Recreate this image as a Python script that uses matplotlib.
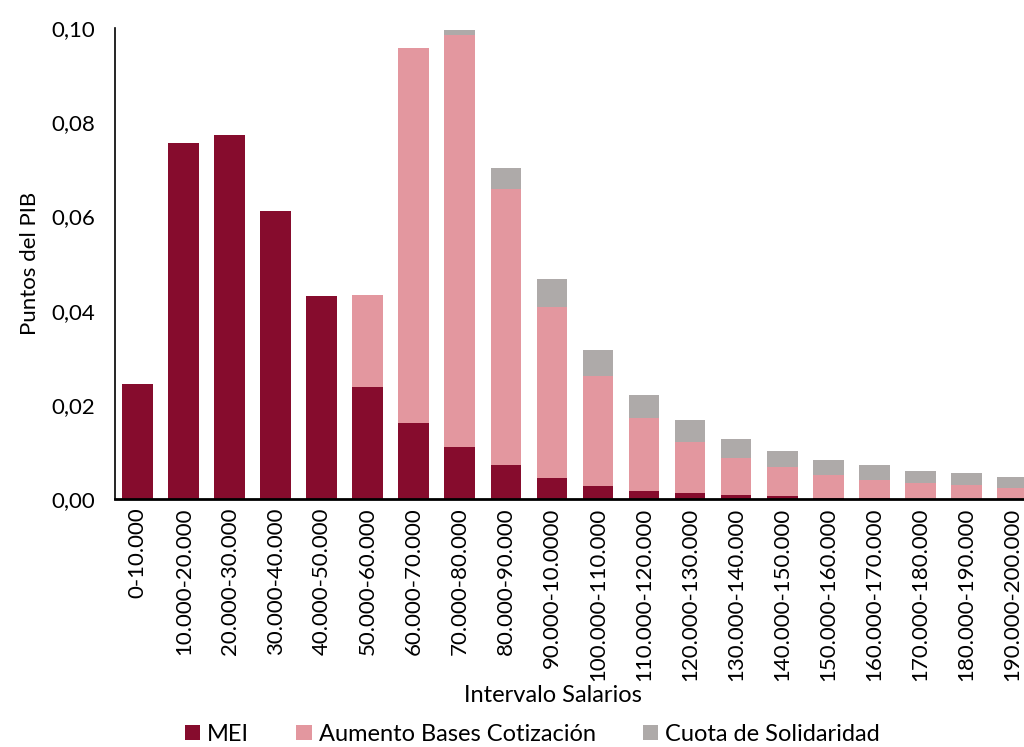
import matplotlib.pyplot as plt
import numpy as np

plt.rcParams['font.family'] = ['Lato', 'DejaVu Sans']

intervalos = ['0-10.000', '10.000-20.000', '20.000-30.000', '30.000-40.000',
              '40.000-50.000', '50.000-60.000', '60.000-70.000', '70.000-80.000',
              '80.000-90.000', '90.000-10.0000', '100.000-110.000', '110.000-120.000',
              '120.000-130.000', '130.000-140.000', '140.000-150.000', '150.000-160.000',
              '160.000-170.000', '170.000-180.000', '180.000-190.000', '190.000-200.000']
mei = [0.0244, 0.0756, 0.0773, 0.0611, 0.0431, 0.0238, 0.0161, 0.0110, 0.0072, 0.0045,
       0.0028, 0.0017, 0.0013, 0.0008, 0.0006, 0.0003, 0.0002, 0.0001, 0.0001, 0.0001]
aumento = [0.0, 0.0, 0.0, 0.0, 0.0, 0.0195, 0.0797, 0.0875, 0.0586, 0.0363,
           0.0233, 0.0155, 0.0108, 0.0079, 0.0062, 0.0048, 0.0038, 0.0033, 0.0029, 0.0022]
cuota = [0.0, 0.0, 0.0, 0.0, 0.0, 0.0, 0.0, 0.0011, 0.0045, 0.0059,
         0.0055, 0.0049, 0.0047, 0.0040, 0.0034, 0.0032, 0.0032, 0.0025, 0.0025, 0.0024]

c_mei = '#860C2D'
c_aum = '#E3979F'
c_cuota = '#AEAAA9'

fig = plt.figure(figsize=(10.24, 7.47), dpi=100)
ax = fig.add_axes([0.112, 0.332, 0.899, 0.6305])

x = np.arange(len(intervalos))
w = 0.67
mei = np.array(mei)
aumento = np.array(aumento)
cuota = np.array(cuota)
ax.bar(x, mei, w, color=c_mei, label='MEI')
ax.bar(x, aumento, w, bottom=mei, color=c_aum, label='Aumento Bases Cotización')
ax.bar(x, cuota, w, bottom=mei + aumento, color=c_cuota, label='Cuota de Solidaridad')

ax.set_xlim(-0.5, 19.5)
ax.set_ylim(0, 0.10)
ax.set_yticks(np.arange(0, 0.101, 0.02))
ax.set_yticklabels([f'{v:.2f}'.replace('.', ',') for v in np.arange(0, 0.101, 0.02)], fontsize=16)
ax.set_xticks(x)
ax.set_xticklabels(intervalos, rotation=90, fontsize=16)
ax.tick_params(axis='both', length=0)
ax.tick_params(axis='x', pad=6)
ax.tick_params(axis='y', pad=14)

ax.spines['top'].set_visible(False)
ax.spines['right'].set_visible(False)
ax.spines['left'].set_linewidth(1.2)
ax.spines['bottom'].set_linewidth(2)

ax.set_ylabel('Puntos del PIB', fontsize=16, labelpad=8)
fig.text(0.54, 0.069, 'Intervalo Salarios', fontsize=17, ha='center', va='center')

fig.legend(loc='center', bbox_to_anchor=(0.52, 0.017), ncol=3, frameon=False,
           fontsize=17, handlelength=0.65, handleheight=0.65, handletextpad=0.3,
           columnspacing=2.0)

fig.savefig('out.png', dpi=100)
